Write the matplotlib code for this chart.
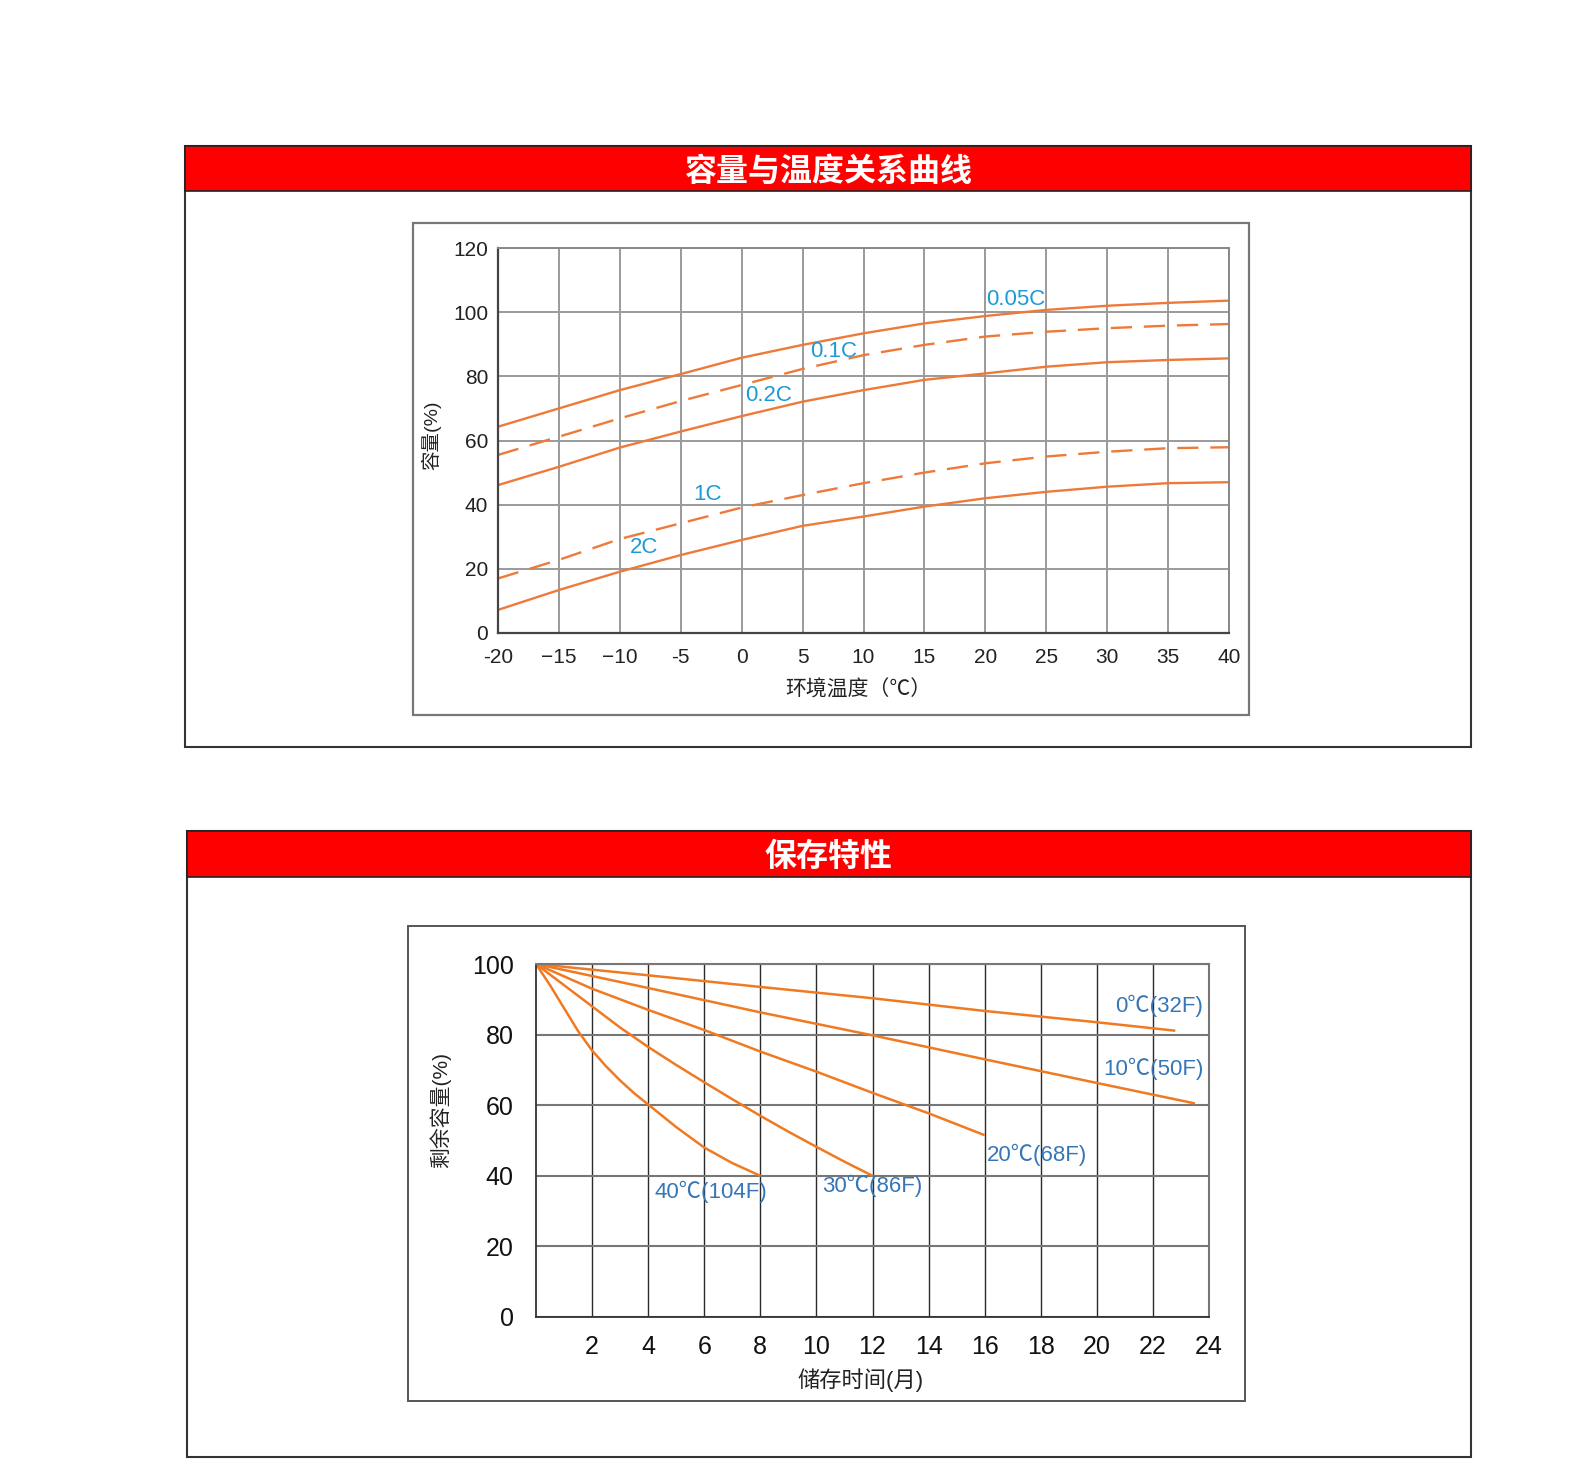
import matplotlib
matplotlib.use('Agg')
import matplotlib.pyplot as plt
from matplotlib.patches import Rectangle

# ---- data: capacity vs temperature ----
temp = [-20, -15, -10, -5, 0, 5, 10, 15, 20, 25, 30, 35, 40]
temp_labels = ['-20', '−15', '−10', '-5', '0', '5', '10', '15', '20', '25', '30', '35', '40']
cap_005c = [64.3, 70.0, 75.7, 80.7, 85.8, 89.8, 93.4, 96.5, 98.8, 100.7, 102.0, 102.9, 103.6]
cap_01c = [55.5, 61.2, 66.9, 72.3, 77.3, 82.3, 86.6, 89.8, 92.4, 93.9, 95.0, 95.8, 96.3]
cap_02c = [46.1, 51.8, 57.8, 62.8, 67.6, 72.1, 75.7, 78.9, 80.9, 83.0, 84.4, 85.1, 85.6]
cap_1c = [17.0, 22.8, 29.3, 34.2, 39.1, 43.0, 46.7, 50.0, 52.9, 55.0, 56.5, 57.6, 57.9]
cap_2c = [7.2, 13.4, 19.1, 24.3, 29.0, 33.4, 36.3, 39.4, 42.0, 44.0, 45.6, 46.7, 47.0]

# ---- data: storage (self discharge) ----
m_0 = [0, 4, 8, 12, 16, 20, 22.8]
r_0 = [100, 96.8, 93.5, 90.3, 86.7, 83.5, 81.1]
m_10 = [0, 4, 8, 12, 16, 20, 23.5]
r_10 = [100, 93.2, 86.3, 79.8, 73.0, 66.3, 60.5]
m_20 = [0, 2, 4, 6, 8, 10, 12, 14, 16]
r_20 = [100, 93, 87, 81.3, 75.2, 69.5, 63.5, 57.7, 51.5]
m_30 = [0, 1, 2, 3, 4, 5, 6, 7, 8, 9, 10, 11, 12]
r_30 = [100, 94, 88, 82, 76.5, 71.4, 66.5, 61.7, 57, 52.5, 48.2, 44, 40]
m_40 = [0, 0.5, 1, 1.5, 2, 2.5, 3, 3.5, 4, 5, 6, 7, 8]
r_40 = [100, 94, 87.5, 81, 75.5, 71, 67, 63.4, 60.2, 53.8, 48, 43.6, 40]

W, H = 1587, 1481
plt.rcParams['font.family'] = ['Liberation Sans', 'Noto Sans CJK SC']

fig = plt.figure(figsize=(W / 100, H / 100), dpi=100)


def box(x0, y0, x1, y1, **kw):
    fig.patches.append(Rectangle((x0 / W, 1 - y1 / H), (x1 - x0) / W, (y1 - y0) / H,
                                 transform=fig.transFigure, **kw))


def axes_px(x0, y0, x1, y1):
    return fig.add_axes([x0 / W, 1 - y1 / H, (x1 - x0) / W, (y1 - y0) / H])


def ftext(x, y, s, **kw):
    fig.text(x / W, 1 - y / H, s, **kw)


red = '#ff0000'
orange1 = '#ee7a3a'
orange2 = '#f07a22'
blue1 = '#1c9ad8'
blue2 = '#3676b6'

# frames
box(185, 146, 1471, 747, fill=False, edgecolor='#333333', lw=1.5)
box(185, 146, 1471, 191, facecolor=red, edgecolor='#222222', lw=1.2)
box(413, 223, 1249, 715, fill=False, edgecolor='#777777', lw=1.6)
ftext(828, 172, '容量与温度关系曲线', ha='center', va='center', color='white',
      fontsize=23, fontweight='bold', family=['Noto Sans CJK SC'])

box(187, 831, 1471, 1457, fill=False, edgecolor='#333333', lw=1.5)
box(187, 831, 1471, 877, facecolor=red, edgecolor='#222222', lw=1.2)
box(408, 926, 1245, 1401, fill=False, edgecolor='#555555', lw=1.4)
ftext(828, 857, '保存特性', ha='center', va='center', color='white',
      fontsize=23, fontweight='bold', family=['Noto Sans CJK SC'])

# ---- top chart ----
ax1 = axes_px(498, 248, 1229, 633)
ax1.set_xlim(-20, 40)
ax1.set_ylim(0, 120)
ax1.set_xticks(temp)
ax1.set_xticklabels(temp_labels)
ax1.set_yticks(range(0, 121, 20))
ax1.grid(True, color='#9a9a9a', lw=1.4)
ax1.set_axisbelow(True)
ax1.tick_params(length=0, labelsize=15, colors='#222222')
ax1.tick_params(axis='x', pad=11)
ax1.tick_params(axis='y', pad=7)
for s in ['left', 'bottom']:
    ax1.spines[s].set_color('#444444')
    ax1.spines[s].set_linewidth(1.6)
for s in ['top', 'right']:
    ax1.spines[s].set_color('#888888')
    ax1.spines[s].set_linewidth(1.4)

ax1.plot(temp, cap_005c, color=orange1, lw=1.7)
ax1.plot(temp, cap_01c, color=orange1, lw=1.7, dashes=(9, 5))
ax1.plot(temp, cap_02c, color=orange1, lw=1.7)
ax1.plot(temp, cap_1c, color=orange1, lw=1.7, dashes=(9, 5))
ax1.plot(temp, cap_2c, color=orange1, lw=1.7)

ax1.text(20.1, 104.1, '0.05C', color=blue1, fontsize=16, va='center')
ax1.text(5.6, 87.6, '0.1C', color=blue1, fontsize=16, va='center')
ax1.text(0.3, 73.9, '0.2C', color=blue1, fontsize=16, va='center')
ax1.text(-4.0, 43.3, '1C', color=blue1, fontsize=16, va='center')
ax1.text(-9.2, 26.8, '2C', color=blue1, fontsize=16, va='center')

ftext(858, 690, '环境温度（℃）', ha='center', va='center', fontsize=15, color='#222222')
ftext(431, 435, '容量(%)', ha='center', va='center', rotation=90, fontsize=14, color='#222222')

# ---- bottom chart ----
ax2 = axes_px(536, 964, 1209, 1317)
ax2.set_xlim(0, 24)
ax2.set_ylim(0, 100)
ax2.set_xticks(range(2, 25, 2))
ax2.set_yticks(range(0, 101, 20))
ax2.xaxis.grid(True, color='#2a2a2a', lw=1.0)
ax2.yaxis.grid(True, color='#777777', lw=1.5)
ax2.set_axisbelow(True)
ax2.tick_params(length=0, labelsize=18, colors='#111111')
ax2.tick_params(axis='x', pad=13)
ax2.tick_params(axis='y', pad=16)
for s in ['left', 'bottom']:
    ax2.spines[s].set_color('#333333')
    ax2.spines[s].set_linewidth(1.3)
for s in ['top', 'right']:
    ax2.spines[s].set_color('#777777')
    ax2.spines[s].set_linewidth(1.5)

for mx, ry in [(m_0, r_0), (m_10, r_10), (m_20, r_20), (m_30, r_30), (m_40, r_40)]:
    ax2.plot(mx, ry, color=orange2, lw=1.8, solid_capstyle='butt', solid_joinstyle='round')

ax2.text(23.8, 88.1, '0℃(32F)', color=blue2, fontsize=16, va='center', ha='right')
ax2.text(23.8, 70.3, '10℃(50F)', color=blue2, fontsize=16, va='center', ha='right')
ax2.text(16.08, 45.9, '20℃(68F)', color=blue2, fontsize=16, va='center')
ax2.text(10.2, 37.1, '30℃(86F)', color=blue2, fontsize=16, va='center')
ax2.text(4.24, 35.4, '40℃(104F)', color=blue2, fontsize=16, va='center')

ftext(860, 1380, '储存时间(月)', ha='center', va='center', fontsize=16, color='#222222')
ftext(440, 1110, '剩余容量(%)', ha='center', va='center', rotation=90, fontsize=15, color='#222222')

fig.savefig('out.png', dpi=100, facecolor='white')
